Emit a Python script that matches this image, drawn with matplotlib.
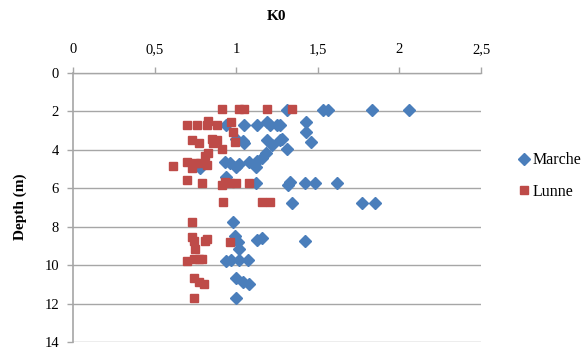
import matplotlib
matplotlib.use("Agg")
import matplotlib.pyplot as plt

plt.rcParams['font.family'] = ['Liberation Serif', 'DejaVu Serif']

# Marche (blue diamonds): K0, depth (m)
marche_k0 = [1.31, 1.53, 1.56, 1.83, 2.06,
             0.94, 1.05, 1.13, 1.19, 1.21, 1.25, 1.27, 1.43, 1.43, 1.46,
             1.00, 1.05, 1.04, 1.19, 1.22, 1.28, 1.31, 1.27,
             1.18, 1.16, 1.13, 1.08, 1.02, 0.96, 0.93, 1.00, 1.12, 0.78,
             0.94, 1.12, 1.32, 1.33, 1.42, 1.48, 1.62,
             1.34, 1.77, 1.85,
             0.98,
             0.99, 1.01, 1.13, 1.16, 1.42,
             1.02,
             0.94, 0.97, 1.02, 1.07,
             1.00, 1.04, 1.08,
             1.00]
marche_depth = [1.90, 1.90, 1.90, 1.90, 1.90,
                2.71, 2.71, 2.71, 2.54, 2.71, 2.71, 2.71, 2.54, 3.06, 3.58,
                3.45, 3.66, 3.54, 3.49, 3.75, 3.45, 3.97, 3.49,
                4.18, 4.42, 4.58, 4.63, 4.74, 4.68, 4.63, 4.89, 4.89, 4.95,
                5.41, 5.71, 5.83, 5.66, 5.71, 5.71, 5.71,
                6.75, 6.75, 6.75,
                7.74,
                8.49, 8.78, 8.69, 8.60, 8.75,
                9.18,
                9.79, 9.73, 9.73, 9.73,
                10.69, 10.86, 11.00,
                11.73]

# Lunne (red squares)
lunne_k0 = [0.91, 1.02, 1.05, 1.19, 1.34,
            0.70, 0.76, 0.82, 0.83, 0.88, 0.97, 0.98,
            0.73, 0.77, 0.85, 0.88, 0.86, 0.91, 0.99,
            0.83, 0.81, 0.61, 0.70, 0.73, 0.75, 0.78, 0.82,
            0.70, 0.79, 0.91, 0.93, 0.96, 1.00, 1.08,
            0.92, 1.16, 1.21,
            0.73,
            0.73, 0.74, 0.82, 0.81, 0.96,
            0.75,
            0.70, 0.74, 0.77, 0.79,
            0.74, 0.77, 0.80,
            0.74]
lunne_depth = [1.89, 1.89, 1.89, 1.89, 1.89,
               2.71, 2.71, 2.71, 2.48, 2.71, 2.54, 3.06,
               3.49, 3.63, 3.44, 3.49, 3.66, 3.96, 3.58,
               4.18, 4.30, 4.83, 4.62, 4.96, 4.69, 4.69, 4.79,
               5.57, 5.71, 5.83, 5.67, 5.71, 5.71, 5.71,
               6.70, 6.70, 6.70,
               7.74,
               8.52, 8.73, 8.66, 8.73, 8.78,
               9.18,
               9.79, 9.70, 9.70, 9.70,
               10.69, 10.90, 11.00,
               11.73]

x_ticks = [0, 0.5, 1, 1.5, 2, 2.5]
x_labels = ["0", "0,5", "1", "1,5", "2", "2,5"]
y_ticks = [0, 2, 4, 6, 8, 10, 12, 14]

fig = plt.figure(figsize=(5.84, 3.52), dpi=100)
ax = fig.add_axes([73/584, 10/352, 408/584, 269/352])

gray = '#a6a6a6'
ax.plot(marche_k0, marche_depth, linestyle='none', marker='D', markersize=6.5,
        color='#4a7ebb', label='Marche')
ax.plot(lunne_k0, lunne_depth, linestyle='none', marker='s', markersize=5.3,
        color='#be4b48', label='Lunne')

ax.set_xlim(0, 2.5)
ax.set_ylim(14, 0)
ax.set_xticks(x_ticks)
ax.set_xticklabels(x_labels)
ax.set_yticks(y_ticks)
ax.xaxis.tick_top()
ax.tick_params(axis='both', labelsize=10.5, color=gray, length=4, width=1)
ax.tick_params(axis='x', pad=8)
ax.tick_params(axis='y', pad=6)

ax.yaxis.grid(True, color=gray, linewidth=1)
ax.set_axisbelow(True)
for side in ['right', 'bottom']:
    ax.spines[side].set_visible(False)
ax.spines['left'].set_color(gray)
ax.spines['top'].set_color(gray)
ax.spines['left'].set_linewidth(1.2)
ax.spines['top'].set_linewidth(1)

fig.text(277/584, 1 - 17/352, 'K0', ha='center', va='center',
         fontsize=11, fontweight='bold')
fig.text(20/584, 1 - 207/352, 'Depth (m)', ha='center', va='center',
         rotation=90, fontsize=11, fontweight='bold')

fig.legend(loc='upper left', bbox_to_anchor=(510/584, 1 - 146/352),
           frameon=False, fontsize=11.5, handlelength=0.9, handletextpad=0.1,
           labelspacing=0.95, borderaxespad=0)

fig.savefig('out.png', dpi=100)
